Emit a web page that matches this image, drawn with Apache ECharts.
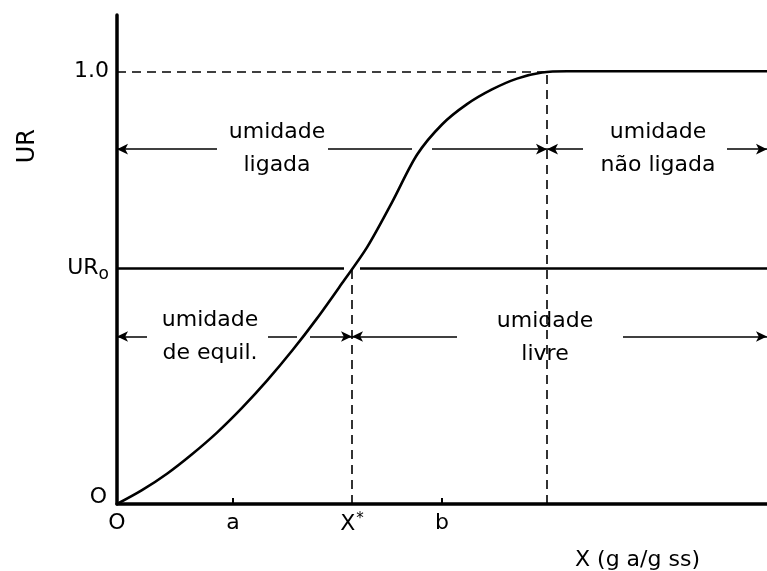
<!DOCTYPE html>
<html>
<head>
<meta charset="utf-8">
<script src="https://cdn.jsdelivr.net/npm/echarts@6/dist/echarts.min.js"></script>
<style>
  html, body { margin: 0; padding: 0; background: #fff; }
  #chart { width: 767px; height: 571px; }
</style>
</head>
<body>
<div id="chart"></div>
<script>
// Moisture isotherm: relative humidity UR against moisture content X.
const curveX = [0, 0.25, 0.50, 0.75, 1.00, 1.25, 1.50, 1.75, 2.00, 2.25, 2.50, 2.75, 3.00, 3.25, 3.50, 3.75, 4.00, 4.25, 4.50, 6.50];
const curveY = [0, 0.032, 0.070, 0.115, 0.165, 0.222, 0.285, 0.354, 0.429, 0.510, 0.593, 0.697, 0.807, 0.877, 0.924, 0.958, 0.983, 0.997, 1.0, 1.0];

// Characteristic values
const X_MAX = 6.5;
const Y_MAX = 1.13;
const UR0 = 0.544;      // working relative humidity
const X_STAR = 2.35;    // equilibrium moisture at UR0
const X_SAT = 4.30;     // moisture where UR reaches 1.0
const A_VAL = 1.16;
const B_VAL = 3.25;

// Axis ticks and labels
const xTickValues = [0, A_VAL, X_STAR, B_VAL];
const xTickLabels = ['O', 'a', 'X{sup|*}', 'b'];
const xMinorTicks = [A_VAL, B_VAL];
const yTickValues = [0, UR0, 1.0];
const yTickLabels = ['{lo|O}', 'UR{sub|o}', '1.0'];

// Moisture regions: [label, x, y]
const regionLabels = [
  ['umidade\nligada', 1.60, 0.82],
  ['umidade\nnão ligada', 5.41, 0.82],
  ['umidade\nde equil.', 0.93, 0.387],
  ['umidade\nlivre', 4.28, 0.383]
];

// Arrow segments: [x start, x end, y, arrow at start, arrow at end]
const arrowSegments = [
  [0, 1.00, 0.82, true, false],
  [2.11, 2.95, 0.82, false, false],
  [3.15, X_SAT, 0.82, false, true],
  [X_SAT, 4.66, 0.82, true, false],
  [6.10, X_MAX, 0.82, false, true],
  [0, 0.30, 0.387, true, false],
  [1.51, 1.80, 0.387, false, false],
  [1.93, X_STAR, 0.387, false, true],
  [X_STAR, 3.40, 0.387, true, false],
  [5.06, X_MAX, 0.387, false, true]
];

const INK = '#000';
const FONT = 'DejaVu Sans';

function pickLabel(values, labels, v) {
  for (let i = 0; i < values.length; i++) {
    if (Math.abs(values[i] - v) < 1e-6) return labels[i];
  }
  return '';
}

const solid = { color: INK, width: 2.5, type: 'solid' };
const dashed = { color: INK, width: 1.6, type: [9, 6] };

const guideLines = [
  [{ coord: [0, UR0], lineStyle: solid }, { coord: [2.27, UR0] }],
  [{ coord: [2.43, UR0], lineStyle: solid }, { coord: [X_MAX, UR0] }],
  [{ coord: [0, 1.0], lineStyle: dashed }, { coord: [X_SAT, 1.0] }],
  [{ coord: [X_STAR, 0], lineStyle: dashed }, { coord: [X_STAR, UR0] }],
  [{ coord: [X_SAT, 0], lineStyle: dashed }, { coord: [X_SAT, 1.0] }]
];

const arrowLines = arrowSegments.map(s => [
  { coord: [s[0], s[2]], symbol: s[3] ? 'arrow' : 'none' },
  { coord: [s[1], s[2]], symbol: s[4] ? 'arrow' : 'none' }
]);

const labelPoints = regionLabels.map(r => ({
  coord: [r[1], r[2]],
  value: r[0],
  label: { formatter: r[0] }
}));

const chart = echarts.init(document.getElementById('chart'), null, { renderer: 'canvas' });

const option = {
  animation: false,
  backgroundColor: '#fff',
  textStyle: { fontFamily: FONT, color: INK },
  grid: { left: 117, right: 0, top: 15, bottom: 67, containLabel: false },
  xAxis: {
    type: 'value',
    min: 0,
    max: X_MAX,
    axisLine: { show: true, lineStyle: { color: INK, width: 3.5 } },
    splitLine: { show: false },
    axisTick: {
      show: true, inside: true, length: 6,
      customValues: xMinorTicks,
      lineStyle: { color: INK, width: 2 }
    },
    axisLabel: {
      customValues: xTickValues,
      margin: 8,
      color: INK,
      fontFamily: FONT,
      fontSize: 22,
      formatter: v => pickLabel(xTickValues, xTickLabels, v),
      rich: {
        sup: { fontSize: 15, fontFamily: FONT, color: INK, verticalAlign: 'top', padding: [0, 0, 10, 1] }
      }
    }
  },
  yAxis: {
    type: 'value',
    min: 0,
    max: Y_MAX,
    axisLine: { show: true, lineStyle: { color: INK, width: 3.5 } },
    splitLine: { show: false },
    axisTick: { show: false },
    axisLabel: {
      customValues: yTickValues,
      margin: 8,
      color: INK,
      fontFamily: FONT,
      fontSize: 22,
      formatter: v => pickLabel(yTickValues, yTickLabels, v),
      rich: {
        sub: { fontSize: 17, fontFamily: FONT, color: INK, verticalAlign: 'bottom', padding: [12, 0, 0, 0] },
        lo: { fontSize: 22, fontFamily: FONT, color: INK, padding: [0, 2, 14, 0] }
      }
    }
  },
  graphic: [
    {
      type: 'text', left: 16, top: 129, rotation: Math.PI / 2,
      style: { text: 'UR', font: '24px "DejaVu Sans"', fill: INK }
    },
    {
      type: 'text', left: 575, top: 549,
      style: { text: 'X (g a/g ss)', font: '22px "DejaVu Sans"', fill: INK }
    }
  ],
  series: [
    {
      name: 'UR',
      type: 'line',
      data: curveX.map((x, i) => [x, curveY[i]]),
      smooth: 0.3,
      showSymbol: false,
      symbol: 'none',
      lineStyle: { color: INK, width: 2.6 },
      silent: true,
      z: 3
    },
    {
      name: 'guides',
      type: 'line',
      data: [],
      silent: true,
      markLine: {
        silent: true,
        symbol: ['none', 'none'],
        label: { show: false },
        lineStyle: { color: INK },
        data: guideLines
      }
    },
    {
      name: 'arrows',
      type: 'line',
      data: [],
      silent: true,
      markLine: {
        silent: true,
        symbolSize: [8, 11],
        label: { show: false },
        lineStyle: { color: INK, width: 1.5, type: 'solid' },
        data: arrowLines
      }
    },
    {
      name: 'regions',
      type: 'line',
      data: [],
      silent: true,
      markPoint: {
        silent: true,
        symbol: 'circle',
        symbolSize: 0,
        itemStyle: { color: 'rgba(0,0,0,0)' },
        label: {
          show: true,
          position: 'inside',
          color: INK,
          fontFamily: FONT,
          fontSize: 22,
          lineHeight: 33,
          align: 'center',
          verticalAlign: 'middle'
        },
        data: labelPoints
      }
    }
  ]
};

chart.setOption(option);
</script>
</body>
</html>
